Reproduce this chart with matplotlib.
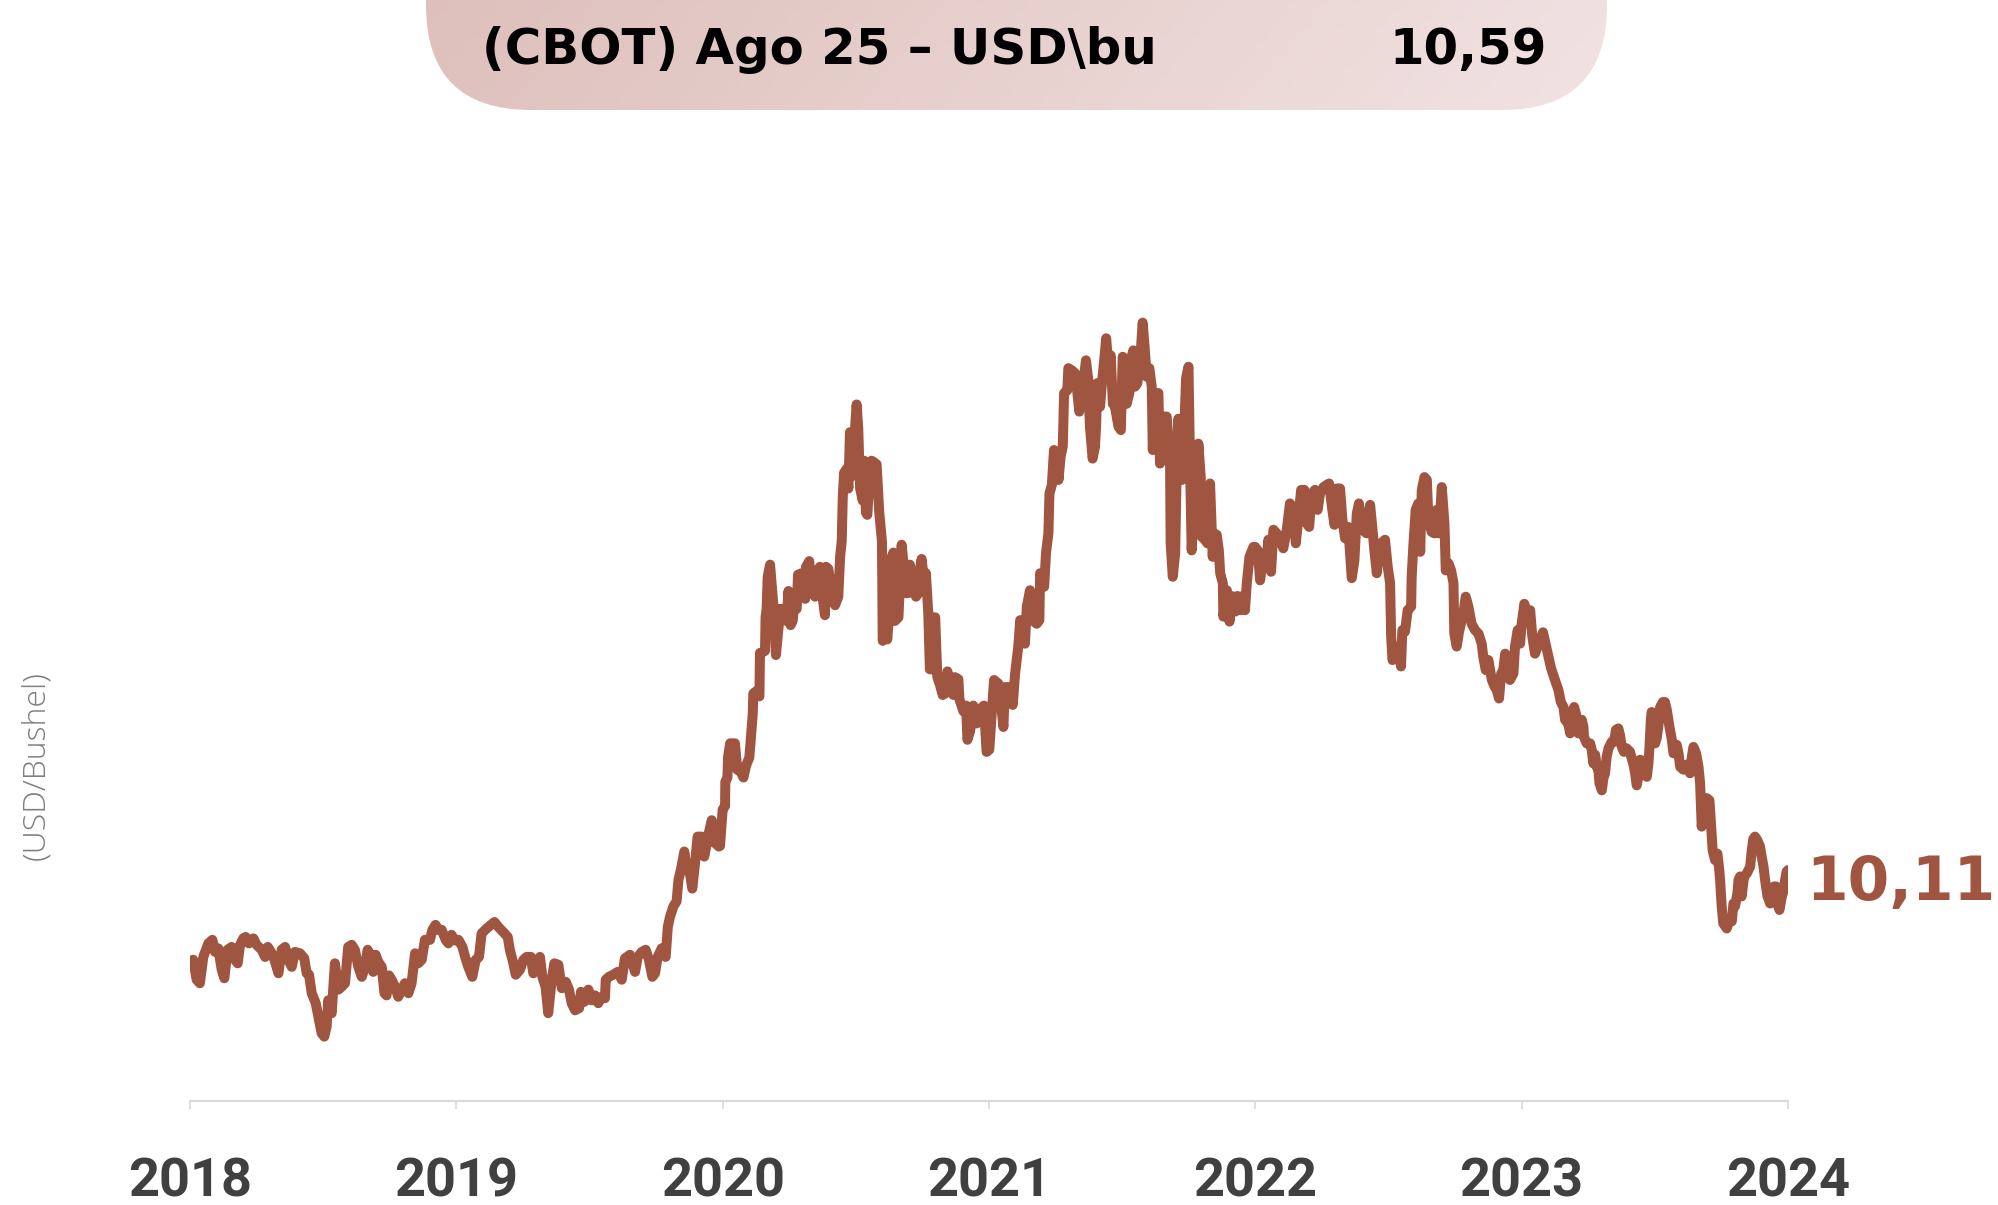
import numpy as np
import matplotlib.pyplot as plt
from matplotlib.patches import FancyBboxPatch
from matplotlib.colors import LinearSegmentedColormap

# dados (ano decimal, USD/bushel)
anos = [
    2018.000, 2018.012, 2018.025, 2018.037, 2018.050, 2018.069, 2018.084, 2018.094, 2018.106, 2018.119,
    2018.129, 2018.141, 2018.156, 2018.169, 2018.179, 2018.188, 2018.200, 2018.209, 2018.221, 2018.238,
    2018.250, 2018.269, 2018.282, 2018.292, 2018.304, 2018.317, 2018.332, 2018.344, 2018.357, 2018.369,
    2018.382, 2018.394, 2018.413, 2018.429, 2018.438, 2018.447, 2018.457, 2018.472, 2018.482, 2018.494,
    2018.504, 2018.513, 2018.519, 2018.532, 2018.544, 2018.557, 2018.569, 2018.582, 2018.594, 2018.607,
    2018.619, 2018.632, 2018.645, 2018.657, 2018.667, 2018.676, 2018.688, 2018.697, 2018.707, 2018.720,
    2018.730, 2018.738, 2018.747, 2018.757, 2018.770, 2018.782, 2018.795, 2018.807, 2018.820, 2018.832,
    2018.845, 2018.857, 2018.870, 2018.882, 2018.901, 2018.910, 2018.922, 2018.932, 2018.945, 2018.960,
    2018.970, 2018.982, 2018.995,
    2019.008, 2019.023, 2019.033, 2019.045, 2019.060, 2019.073, 2019.085, 2019.095, 2019.114, 2019.130,
    2019.143, 2019.158, 2019.176, 2019.193, 2019.201, 2019.214, 2019.223, 2019.239, 2019.252, 2019.264,
    2019.280, 2019.289, 2019.302, 2019.314, 2019.323, 2019.335, 2019.345, 2019.358, 2019.368, 2019.383,
    2019.396, 2019.411, 2019.423, 2019.433, 2019.446, 2019.461, 2019.468, 2019.481, 2019.496, 2019.508,
    2019.521, 2019.533, 2019.546, 2019.558, 2019.561, 2019.573, 2019.589, 2019.606, 2019.621, 2019.633,
    2019.652, 2019.671, 2019.681, 2019.696, 2019.711, 2019.723, 2019.736, 2019.746, 2019.756, 2019.771,
    2019.786, 2019.794, 2019.802, 2019.815, 2019.827, 2019.834, 2019.844, 2019.856, 2019.865, 2019.871,
    2019.886, 2019.896, 2019.906, 2019.921, 2019.931, 2019.946, 2019.959, 2019.971, 2019.986,
    2019.990, 2020.000, 2020.009, 2020.010, 2020.018, 2020.020, 2020.028, 2020.046, 2020.055, 2020.068,
    2020.078, 2020.088, 2020.100, 2020.105, 2020.113, 2020.115, 2020.125, 2020.138, 2020.140, 2020.146,
    2020.159, 2020.161, 2020.165, 2020.169, 2020.178, 2020.184, 2020.193, 2020.200, 2020.209, 2020.218,
    2020.228, 2020.240, 2020.247, 2020.255, 2020.263, 2020.268, 2020.278, 2020.283, 2020.297, 2020.303,
    2020.310, 2020.313, 2020.325, 2020.334, 2020.347, 2020.353, 2020.365, 2020.375, 2020.384, 2020.388,
    2020.397, 2020.409, 2020.422, 2020.434, 2020.441, 2020.447, 2020.451, 2020.456, 2020.466, 2020.472,
    2020.478, 2020.484, 2020.491, 2020.497, 2020.503, 2020.509, 2020.516, 2020.526, 2020.531, 2020.538,
    2020.543, 2020.551, 2020.559, 2020.568, 2020.578, 2020.588, 2020.598, 2020.601, 2020.610, 2020.618,
    2020.628, 2020.635, 2020.641, 2020.647, 2020.660, 2020.666, 2020.672, 2020.681, 2020.686, 2020.697,
    2020.703, 2020.716, 2020.726, 2020.735, 2020.741, 2020.747, 2020.756, 2020.763, 2020.772, 2020.778,
    2020.791, 2020.793, 2020.798, 2020.806, 2020.816, 2020.826, 2020.835, 2020.844, 2020.854, 2020.866,
    2020.872, 2020.885, 2020.889, 2020.904, 2020.914, 2020.919, 2020.929, 2020.941, 2020.954, 2020.964,
    2020.972, 2020.981, 2020.991, 2021.001,
    2021.014, 2021.019, 2021.035, 2021.044, 2021.054, 2021.060, 2021.079, 2021.089, 2021.098, 2021.110,
    2021.117, 2021.129, 2021.135, 2021.142, 2021.154, 2021.164, 2021.179, 2021.189, 2021.192, 2021.207,
    2021.214, 2021.223, 2021.227, 2021.236, 2021.244, 2021.254, 2021.261, 2021.269, 2021.277, 2021.282,
    2021.294, 2021.298, 2021.311, 2021.323, 2021.332, 2021.339, 2021.348, 2021.354, 2021.364, 2021.373,
    2021.379, 2021.389, 2021.398, 2021.402, 2021.407, 2021.417, 2021.423, 2021.432, 2021.440, 2021.448,
    2021.457, 2021.465, 2021.473, 2021.486, 2021.495, 2021.502, 2021.511, 2021.517, 2021.527, 2021.532,
    2021.542, 2021.548, 2021.557, 2021.567, 2021.577, 2021.586, 2021.592, 2021.602, 2021.611, 2021.615,
    2021.624, 2021.636, 2021.642, 2021.649, 2021.655, 2021.667, 2021.674, 2021.680, 2021.682, 2021.690,
    2021.699, 2021.705, 2021.711, 2021.717, 2021.724, 2021.730, 2021.740, 2021.749, 2021.755, 2021.761,
    2021.770, 2021.780, 2021.786, 2021.795, 2021.799, 2021.811, 2021.820, 2021.830, 2021.840, 2021.845,
    2021.855, 2021.863, 2021.868, 2021.878, 2021.880, 2021.893, 2021.903, 2021.911, 2021.924, 2021.933,
    2021.943, 2021.953, 2021.961, 2021.968, 2021.978, 2021.993,
    2021.999, 2022.009, 2022.018, 2022.027, 2022.039, 2022.049, 2022.059, 2022.068, 2022.080, 2022.089,
    2022.105, 2022.118, 2022.130, 2022.143, 2022.152, 2022.162, 2022.172, 2022.184, 2022.193, 2022.202,
    2022.212, 2022.224, 2022.234, 2022.243, 2022.256, 2022.268, 2022.277, 2022.289, 2022.297, 2022.306,
    2022.318, 2022.327, 2022.337, 2022.349, 2022.362, 2022.372, 2022.381, 2022.389, 2022.402, 2022.418,
    2022.431, 2022.440, 2022.447, 2022.456, 2022.465, 2022.472, 2022.487, 2022.497, 2022.506, 2022.510,
    2022.515, 2022.525, 2022.535, 2022.547, 2022.552, 2022.562, 2022.572, 2022.585, 2022.587, 2022.593,
    2022.602, 2022.612, 2022.619, 2022.625, 2022.635, 2022.644, 2022.650, 2022.662, 2022.672, 2022.681,
    2022.690, 2022.700, 2022.710, 2022.715, 2022.725, 2022.735, 2022.744, 2022.747, 2022.756, 2022.765,
    2022.781, 2022.790, 2022.800, 2022.812, 2022.825, 2022.838, 2022.850, 2022.856, 2022.865, 2022.875,
    2022.888, 2022.898, 2022.906, 2022.915, 2022.923, 2022.931, 2022.938, 2022.948, 2022.956, 2022.969,
    2022.975, 2022.985, 2022.994, 2023.000, 2023.010, 2023.023, 2023.032, 2023.040, 2023.050,
    2023.065, 2023.080, 2023.095, 2023.110,
    2023.125, 2023.138, 2023.147, 2023.157, 2023.163, 2023.175, 2023.182, 2023.188, 2023.197, 2023.207,
    2023.213, 2023.219, 2023.226, 2023.232, 2023.234, 2023.244, 2023.257, 2023.263, 2023.269, 2023.276,
    2023.282, 2023.288, 2023.292, 2023.301, 2023.307, 2023.313, 2023.319, 2023.326, 2023.338, 2023.347,
    2023.354, 2023.363, 2023.369, 2023.376, 2023.384, 2023.394, 2023.407, 2023.413, 2023.420, 2023.426,
    2023.432, 2023.438, 2023.445, 2023.457, 2023.463, 2023.470, 2023.476, 2023.480, 2023.485, 2023.488,
    2023.495, 2023.501, 2023.507, 2023.513, 2023.520, 2023.530, 2023.538, 2023.545, 2023.555, 2023.563,
    2023.570, 2023.582, 2023.589, 2023.595, 2023.607, 2023.620, 2023.632, 2023.639, 2023.645, 2023.655,
    2023.664, 2023.670, 2023.676, 2023.685, 2023.695, 2023.705, 2023.710, 2023.717, 2023.726, 2023.735,
    2023.742, 2023.745, 2023.751, 2023.757, 2023.770, 2023.780, 2023.789, 2023.795, 2023.801, 2023.810,
    2023.814, 2023.820, 2023.826, 2023.835, 2023.845, 2023.858, 2023.864, 2023.870, 2023.876, 2023.885,
    2023.895, 2023.901, 2023.908, 2023.914, 2023.923, 2023.933, 2023.939, 2023.948, 2023.955, 2023.960,
    2023.968, 2023.977, 2023.983, 2023.989, 2023.995, 2024.000,
]

precos = [
    8.80, 8.85, 8.57, 8.52, 8.89, 9.08, 9.13, 8.96, 9.01, 8.71,
    8.59, 8.99, 9.03, 8.85, 8.80, 9.06, 9.15, 9.17, 9.08, 9.15,
    9.06, 8.99, 8.89, 9.03, 8.96, 8.85, 8.66, 8.99, 9.03, 8.85,
    8.75, 8.96, 8.94, 8.87, 8.66, 8.64, 8.38, 8.24, 8.05, 7.82,
    7.77, 7.91, 8.28, 8.10, 8.80, 8.43, 8.47, 8.52, 9.03, 9.06,
    8.99, 8.75, 8.61, 8.75, 8.99, 8.92, 8.68, 8.92, 8.82, 8.75,
    8.38, 8.35, 8.63, 8.57, 8.47, 8.33, 8.43, 8.52, 8.38, 8.52,
    8.94, 8.80, 8.85, 9.13, 9.13, 9.27, 9.34, 9.27, 9.27, 9.13,
    9.08, 9.20, 9.12,
    9.13, 9.03, 8.89, 8.75, 8.61, 8.85, 8.89, 9.22, 9.29, 9.34,
    9.38, 9.31, 9.24, 9.17, 8.99, 8.80, 8.64, 8.71, 8.85, 8.89,
    8.89, 8.66, 8.80, 8.89, 8.61, 8.47, 8.10, 8.57, 8.80, 8.78,
    8.45, 8.54, 8.43, 8.24, 8.14, 8.17, 8.40, 8.26, 8.43, 8.28,
    8.35, 8.24, 8.33, 8.31, 8.57, 8.61, 8.64, 8.68, 8.57, 8.87,
    8.92, 8.68, 8.89, 8.96, 8.99, 8.85, 8.61, 8.66, 8.89, 9.01,
    8.89, 9.31, 9.45, 9.60, 9.67, 9.97, 10.13, 10.37, 10.11, 10.20,
    9.85, 10.20, 10.58, 10.58, 10.30, 10.60, 10.81, 10.49, 10.44,
    10.45, 10.96, 11.01, 11.35, 11.41, 11.69, 11.89, 11.89, 11.52, 11.49,
    11.41, 11.58, 11.69, 11.92, 12.31, 12.59, 12.62, 12.55, 13.16, 13.16,
    13.19, 13.66, 13.78, 14.23, 14.40, 14.12, 13.72, 13.13, 13.49, 13.78,
    13.66, 13.61, 14.03, 13.55, 13.61, 13.83, 13.78, 14.26, 14.28, 13.95,
    13.92, 14.37, 14.45, 14.09, 13.95, 14.28, 14.37, 13.95, 13.69, 14.37,
    14.34, 13.97, 13.83, 13.95, 14.51, 14.73, 15.36, 15.69, 15.75, 15.47,
    16.26, 15.64, 15.98, 16.32, 16.65, 16.32, 15.47, 15.30, 15.86, 15.13,
    15.10, 15.58, 15.86, 15.84, 15.81, 15.13, 14.73, 13.33, 13.61, 13.35,
    13.83, 14.51, 14.57, 13.61, 13.66, 14.17, 14.68, 14.34, 14.00, 14.00,
    14.40, 14.12, 13.95, 14.00, 14.34, 14.48, 14.17, 14.28, 13.72, 12.93,
    12.93, 13.66, 13.66, 12.82, 12.71, 12.57, 12.59, 12.90, 12.71, 12.57,
    12.82, 12.79, 12.51, 12.34, 12.42, 11.94, 12.06, 12.42, 12.17, 12.34,
    12.39, 12.42, 11.77, 11.80,
    12.50, 12.78, 12.73, 12.50, 12.12, 12.68, 12.68, 12.43, 12.87, 13.25,
    13.62, 13.62, 13.29, 13.81, 14.04, 13.62, 13.57, 13.62, 14.28, 14.09,
    14.56, 14.84, 15.40, 15.52, 16.01, 15.96, 15.59, 15.92, 16.06, 16.81,
    16.85, 17.16, 17.13, 17.09, 16.81, 16.55, 16.76, 16.95, 17.27, 16.99,
    16.34, 15.89, 16.06, 16.34, 16.95, 16.62, 16.90, 17.25, 17.58, 17.18,
    17.34, 16.66, 16.62, 16.34, 16.29, 17.32, 17.13, 16.66, 16.81, 17.27,
    17.41, 16.90, 16.95, 17.23, 17.80, 17.37, 17.04, 17.16, 16.90, 16.01,
    16.81, 16.81, 15.82, 15.96, 16.48, 16.48, 16.15, 15.77, 14.70, 14.23,
    14.56, 15.77, 16.45, 15.68, 15.59, 15.96, 17.02, 17.18, 15.77, 14.60,
    15.31, 14.84, 16.10, 15.63, 14.79, 14.75, 14.70, 15.54, 14.51, 14.84,
    14.82, 14.60, 14.28, 14.14, 13.67, 14.04, 13.60, 13.96, 13.74, 13.96,
    13.76, 13.96, 13.76, 14.14, 14.51, 14.65,
    14.65, 14.60, 14.18, 14.46, 14.37, 14.75, 14.30, 14.89, 14.84, 14.79,
    14.63, 14.89, 15.26, 15.19, 14.70, 15.07, 15.45, 15.45, 14.98, 14.93,
    15.40, 15.45, 15.17, 15.40, 15.49, 15.52, 15.54, 15.17, 14.96, 15.47,
    15.47, 15.03, 14.77, 14.93, 14.21, 14.46, 15.12, 15.26, 14.89, 14.84,
    15.24, 14.89, 14.60, 14.28, 14.60, 14.70, 14.75, 14.37, 14.14, 13.39,
    13.06, 13.20, 13.25, 12.97, 13.48, 13.46, 13.76, 13.81, 14.23, 14.65,
    15.17, 15.26, 14.58, 15.45, 15.63, 15.59, 15.03, 14.86, 14.84, 15.17,
    14.84, 15.49, 14.98, 14.32, 14.42, 14.32, 14.14, 13.43, 13.25, 13.46,
    13.72, 13.95, 13.81, 13.57, 13.48, 13.43, 13.29, 13.10, 12.92, 13.06,
    12.78, 12.69, 12.64, 12.52, 12.87, 12.92, 13.15, 12.92, 12.78, 12.87,
    13.25, 13.48, 13.29, 13.57, 13.85, 13.67, 13.76, 13.39, 13.15,
    13.30, 13.45, 13.20, 12.95,
    12.78, 12.64, 12.47, 12.40, 12.22, 12.17, 12.03, 12.31, 12.40, 12.26,
    12.03, 12.17, 12.22, 12.12, 11.98, 11.89, 11.89, 11.80, 11.61, 11.73,
    11.56, 11.52, 11.33, 11.23, 11.40, 11.47, 11.70, 11.82, 11.91, 11.91,
    12.08, 12.10, 12.01, 11.84, 11.77, 11.82, 11.77, 11.68, 11.59, 11.47,
    11.30, 11.42, 11.66, 11.63, 11.47, 11.42, 11.61, 11.84, 12.22, 12.33,
    12.31, 11.89, 11.96, 12.12, 12.40, 12.47, 12.47, 12.36, 12.12, 11.96,
    11.75, 11.87, 11.75, 11.56, 11.52, 11.59, 11.47, 11.70, 11.84, 11.75,
    11.56, 11.33, 10.72, 11.12, 11.12, 11.09, 10.81, 10.39, 10.25, 10.34,
    10.11, 9.97, 9.60, 9.36, 9.29, 9.41, 9.39, 9.64, 9.60, 9.78,
    9.97, 10.02, 9.74, 10.02, 10.06, 10.16, 10.39, 10.55, 10.58, 10.53,
    10.44, 10.30, 10.16, 9.97, 9.74, 9.64, 9.78, 9.88, 9.88, 9.64,
    9.55, 9.74, 9.81, 9.97, 10.09, 10.11,
]

anos_ticks = [2018, 2019, 2020, 2021, 2022, 2023, 2024]
titulo = '(CBOT) Ago 25 – USD\\bu'
valor_titulo = '10,59'
valor_final = '10,11'
cor = '#a05541'

fig = plt.figure(figsize=(19.98, 12.05), dpi=100)
ax = fig.add_axes([190 / 1998, 104 / 1205, 1598 / 1998, 935 / 1205])

ax.plot(anos, precos, color=cor, lw=7.2, solid_joinstyle='round', solid_capstyle='round')
ax.set_xlim(2018, 2024)
ax.set_ylim(6.866, 20.0)
ax.set_xticks(anos_ticks)
ax.set_xticklabels([str(a) for a in anos_ticks], fontfamily=['Roboto', 'DejaVu Sans'],
                   fontweight='bold', fontsize=39, color='#404040')
ax.tick_params(axis='x', length=6, width=1.2, color='#d9d9d9', pad=34)
ax.set_yticks([])
for s in ['top', 'right', 'left']:
    ax.spines[s].set_visible(False)
ax.spines['bottom'].set_color('#d9d9d9')
ax.spines['bottom'].set_linewidth(1.5)

# rótulo do último valor
ax.annotate(valor_final, xy=(anos[-1], precos[-1]), xytext=(13, -10), textcoords='offset points',
            ha='left', va='center', fontsize=43, fontweight='bold', color=cor,
            fontfamily='DejaVu Sans', annotation_clip=False)

fig.text(36 / 1998, 1 - 766 / 1205, '(USD/Bushel)', rotation=90, ha='center', va='center',
         fontsize=23, color='#7f7f7f', fontfamily='Open Sans', fontweight='light')

# faixa do título
hx = fig.add_axes([0, 0, 1, 1], zorder=5)
hx.set_xlim(0, 1998)
hx.set_ylim(1205, 0)
hx.axis('off')
caixa = FancyBboxPatch((426, -150), 1181, 260, boxstyle='round,pad=0,rounding_size=105',
                       facecolor='none', edgecolor='none')
hx.add_patch(caixa)
cmap = LinearSegmentedColormap.from_list('hdr', ['#dcbcb8', '#f1e3e2'])
gx, gy = np.meshgrid(np.linspace(0, 1, 256), np.linspace(0, 1, 32))
grad = 0.85 * gx + 0.15 * gy
im = hx.imshow(grad, extent=(426, 1607, 110, -150), aspect='auto', cmap=cmap)
im.set_clip_path(caixa)
hx.set_xlim(0, 1998)
hx.set_ylim(1205, 0)
hx.text(482, 50, titulo, ha='left', va='center', fontsize=35.8, fontweight='bold',
        fontfamily='DejaVu Sans', color='black')
hx.text(1547, 50, valor_titulo, ha='right', va='center', fontsize=35.8, fontweight='bold',
        fontfamily='DejaVu Sans', color='black')

fig.savefig('out.png', dpi=100)
